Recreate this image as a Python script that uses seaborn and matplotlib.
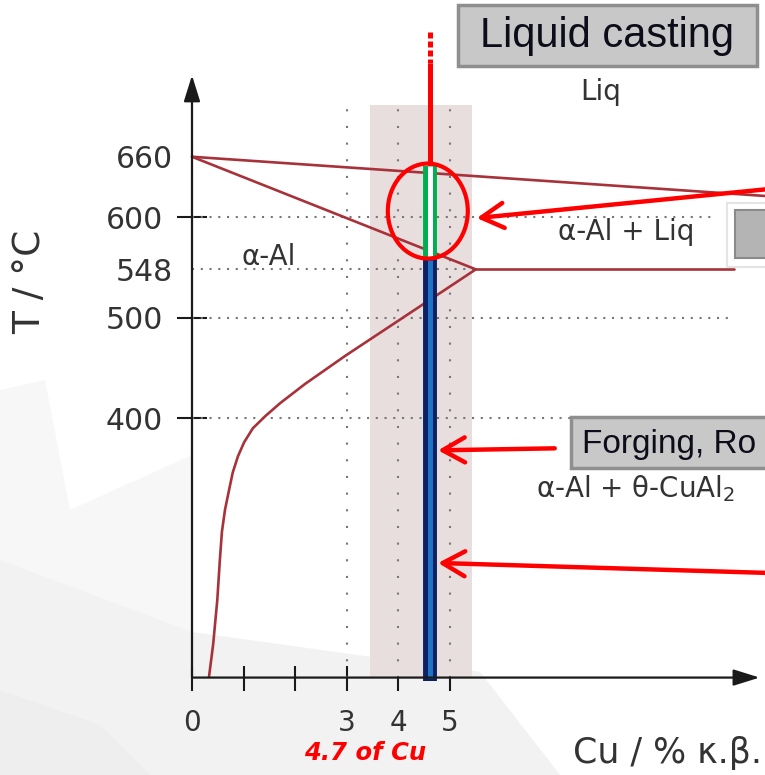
import pandas as pd
import seaborn as sns
import matplotlib.pyplot as plt
from matplotlib.patches import Ellipse, Rectangle, Polygon

# Al-rich corner of the Al-Cu phase diagram (wt% Cu, deg C)
liquidus_cu = [0.0, 11.1]
liquidus_t = [660, 621]
solidus_cu = [0.0, 5.5]
solidus_t = [660, 548]
solvus_cu = [5.5, 4.03, 2.97, 2.19, 1.71, 1.42, 1.18, 1.01, 0.89, 0.79, 0.72, 0.64, 0.58,
             0.54, 0.49, 0.41, 0.33]
solvus_t = [548, 498, 462, 434, 415, 402, 390, 376, 362, 346, 329, 309, 287,
            259, 219, 175, 143]
eutectic_cu = [5.5, 10.5]
eutectic_t = [548, 548]

# cooling path of the 4.7 % Cu alloy
alloy_cu = 4.62
pour_t = [784, 753]
liquid_t = [753, 651]
mushy_t = [651, 559]
solid_t = [559, 139]

# shaded composition window
band_cu = [3.45, 5.42]
band_t = [142, 711]

guide_cu = [3, 4, 5]
guide_t = [600, 548, 500, 400]
guide_end = [10.1, 5.5, 10.5, 7.4]

y_ticks = [400, 500, 548, 600, 660]
x_ticks = [0, 1, 2, 3, 4, 5]
x_ticklabels = ['0', '', '', '3', '4', '5']

t_axis = 142
curve_col = '#a8323a'

sns.set_style('white')
plt.rcParams['font.family'] = ['DejaVu Sans']

fig = plt.figure(figsize=(7.65, 7.75), dpi=100)
ax = fig.add_axes([0, 0, 1, 1])
ax.set_xlim(-3.721, 11.105)
ax.set_ylim(45.1, 815.9)
ax.set_facecolor('none')


def px(x, y):
    return (x / 765, 1 - y / 775)


# faint slide background shapes
for pts, col in [
    ([(0, 390), (45, 380), (70, 510), (192, 455), (192, 635), (480, 672), (560, 775), (0, 775)], '#f7f7f7'),
    ([(0, 560), (192, 632), (480, 672), (560, 775), (0, 775)], '#f2f2f2'),
    ([(0, 690), (100, 725), (150, 775), (0, 775)], '#eeeeee'),
]:
    ax.add_patch(Polygon([px(*p) for p in pts], closed=True, transform=fig.transFigure,
                         facecolor=col, edgecolor='none', zorder=0, clip_on=False))

ax.fill_between(band_cu, band_t[0], band_t[1], color='#e8dede', lw=0, zorder=1)

# guide lines
for c in guide_cu:
    ax.plot([c, c], [t_axis, band_t[1]], color='#777777', lw=1.5, dashes=(1, 7), zorder=2)
for t, end in zip(guide_t, guide_end):
    ax.plot([0, end], [t, t], color='#777777', lw=1.5, dashes=(1, 3.2), zorder=2)

# phase boundaries
curves = pd.concat([
    pd.DataFrame({'cu': liquidus_cu, 't': liquidus_t, 'line': 'liquidus'}),
    pd.DataFrame({'cu': solidus_cu, 't': solidus_t, 'line': 'solidus'}),
    pd.DataFrame({'cu': solvus_cu, 't': solvus_t, 'line': 'solvus'}),
    pd.DataFrame({'cu': eutectic_cu, 't': eutectic_t, 'line': 'eutectic'}),
])
for name, grp in curves.groupby('line'):
    sns.lineplot(data=grp, x='cu', y='t', sort=False, estimator=None, color=curve_col,
                 lw=1.9, ax=ax, zorder=3)
for ln in ax.lines:
    ln.set_solid_joinstyle('round')

# alloy path
ax.plot([alloy_cu] * 2, pour_t, color='red', lw=3.6, dashes=(1.2, 0.6), zorder=4)
ax.plot([alloy_cu] * 2, liquid_t, color='red', lw=3.6, solid_capstyle='butt', zorder=4)
ax.plot([alloy_cu] * 2, mushy_t, color='#00b050', lw=10, solid_capstyle='butt', zorder=4)
ax.plot([alloy_cu] * 2, mushy_t, color='white', lw=3.6, solid_capstyle='butt', zorder=4)
ax.plot([alloy_cu] * 2, solid_t, color='#0b2163', lw=10, solid_capstyle='butt', zorder=4)
ax.plot([alloy_cu] * 2, [solid_t[0] - 2, solid_t[1] + 3], color='#1f73c6', lw=3.6,
        solid_capstyle='butt', zorder=4)

ax.add_patch(Ellipse((4.57, 606), 1.55, 94.5, fill=False, ec='red', lw=3, zorder=5))

# axes with arrow heads
axis_arrow = dict(arrowstyle='-|>,head_length=0.8,head_width=0.25', color='#1a1a1a', lw=1.6,
                  shrinkA=0, shrinkB=0, mutation_scale=20)
ax.annotate('', xy=(0, 741), xytext=(0, t_axis), arrowprops=axis_arrow, zorder=6)
ax.annotate('', xy=(11.0, t_axis), xytext=(0, t_axis), arrowprops=axis_arrow, zorder=6)

for s in ax.spines.values():
    s.set_visible(False)
ax.spines['left'].set_position(('data', 0))
ax.spines['bottom'].set_position(('data', t_axis))

ax.set_yticks(y_ticks)
ax.set_yticklabels([str(t) for t in y_ticks])
ax.set_xticks(x_ticks)
ax.set_xticklabels(x_ticklabels)
ax.tick_params(axis='y', left=True, direction='inout', length=22, width=1.5, pad=9.9,
               labelsize=21.5, color='#1a1a1a', labelcolor='#333333')
ax.tick_params(axis='x', bottom=True, direction='inout', length=18, width=1.5, pad=13.3,
               labelsize=20, color='#1a1a1a', labelcolor='#333333')
for tick, t in zip(ax.yaxis.get_major_ticks(), y_ticks):
    if t in (548, 660):
        tick.tick1line.set_visible(False)
        tick.set_pad(2.7)

# red pointers
pointer = dict(arrowstyle='->,head_length=0.8,head_width=0.45', color='red', lw=3.2,
               shrinkA=0, shrinkB=0, mutation_scale=20)
ax.annotate('', xy=(5.52, 599), xytext=(11.2, 628), arrowprops=pointer, zorder=7)
ax.annotate('', xy=(4.77, 368), xytext=(7.03, 370), arrowprops=pointer, zorder=7)
ax.annotate('', xy=(4.77, 256), xytext=(11.2, 246), arrowprops=pointer, zorder=7)

# buttons
ax.add_patch(Rectangle((5.155, 750.2), 10.95 - 5.155, 810.9 - 750.2, fc='#c8c8c8', ec='#8f8f8f',
                       lw=2.5, zorder=8))
ax.text(8.05, 780.5, 'Liquid casting', ha='center', va='center', fontsize=30,
        family=['Liberation Sans', 'DejaVu Sans'], color='#0d0d1a', zorder=9)
ax.add_patch(Rectangle((7.345, 350.5), 4.5, 401.2 - 350.5, fc='#c8c8c8', ec='#8f8f8f',
                       lw=2.5, zorder=8))
ax.text(7.56, 365, 'Forging, Ro', ha='left', va='baseline', fontsize=24,
        family=['Liberation Sans', 'DejaVu Sans'], color='#0d0d1a', zorder=9)
ax.add_patch(Rectangle((10.37, 550.4), 1.0, 614 - 550.4, fc='white', ec='#e4e4e4',
                       lw=1.5, zorder=8))
ax.add_patch(Rectangle((10.52, 559.5), 1.0, 607 - 559.5, fc='#b4b4b4', ec='#8a8a8a',
                       lw=1.5, zorder=8))

# region labels
lbl = dict(color='#333333', fontsize=20, va='baseline', ha='center', zorder=9)
ax.text(7.93, 716, 'Liq', **lbl)
ax.text(1.48, 552, 'α-Al', **lbl)
ax.text(8.41, 577, 'α-Al + Liq', **lbl)
ax.text(8.59, 321, r'α-Al + θ-CuAl$_2$', **lbl)

ax.text(-3.14, 536, 'T / °C', rotation=90, ha='center', va='center', fontsize=27,
        color='#333333')
ax.text(11.05, 57, 'Cu / % κ.β.', ha='right', va='baseline', fontsize=25, color='#333333')
ax.text(3.35, 60, '4.7 of Cu', ha='center', va='baseline', fontsize=17.5, color='red',
        fontweight='bold', fontstyle='italic')

ax.set_xlabel('')
ax.set_ylabel('')
plt.savefig('out.png', dpi=100)
plt.close()
